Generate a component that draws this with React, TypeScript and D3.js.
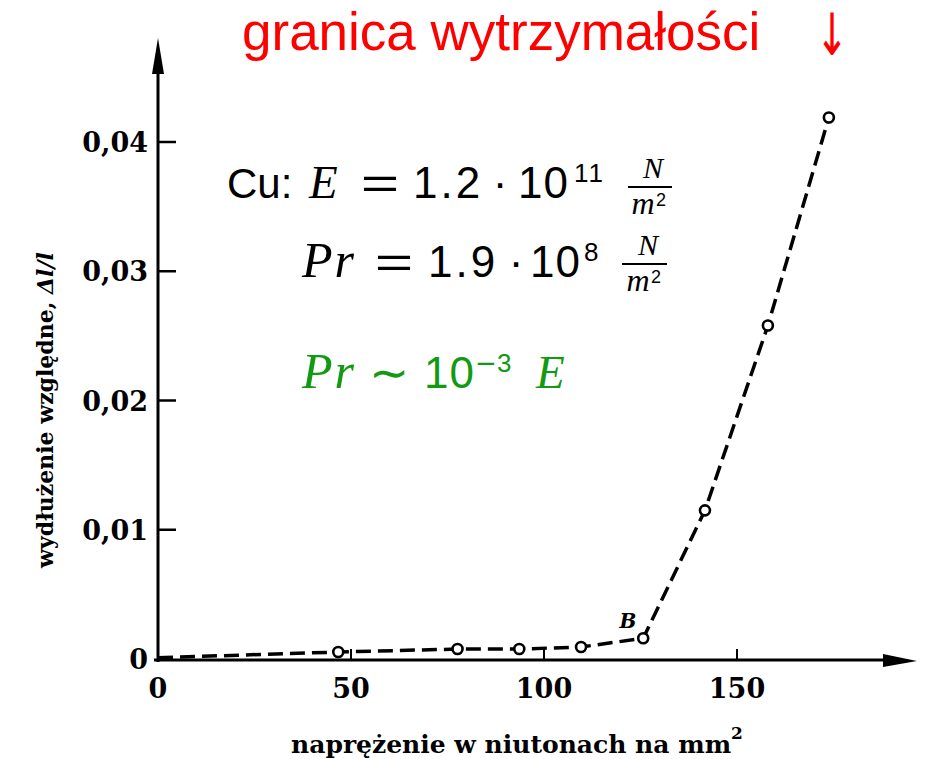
import React from "react";
import * as d3 from "d3";

const stressValues = [0, 46.7, 77.6, 93.6, 109.6, 125.7, 141.7, 158.0, 173.8];
const strainValues = [0.0001, 0.00054, 0.00077, 0.00077, 0.00093, 0.0016, 0.0115, 0.0258, 0.0419];
const markerFlags = [false, true, true, true, true, true, true, true, true];
const xTicks = [0, 50, 100, 150];
const yTicks = [0, 0.01, 0.02, 0.03, 0.04];
const yTickLabels = ["0", "0,01", "0,02", "0,03", "0,04"];
const titleText = "granica wytrzymałości";
const xLabel = "naprężenie w niutonach na mm";
const yLabel = "wydłużenie względne, ";

const W = 926;
const H = 759;

const serifBold = "'DejaVu Serif', serif";
const sans = "'Liberation Sans', Arial, sans-serif";
const mathIt = "'Liberation Serif', 'Times New Roman', serif";
const relFont = "'DejaVu Sans', sans-serif";

function Frac({ cx, bar, x1, x2, color }: { cx: number; bar: number; x1: number; x2: number; color: string }) {
  return (
    <g fill={color}>
      <text x={cx + 3} y={bar - 9} fontSize={30} fontFamily={mathIt} fontStyle="italic" textAnchor="middle">
        N
      </text>
      <line x1={x1} y1={bar} x2={x2} y2={bar} stroke={color} strokeWidth={2.2} />
      <text x={cx - 7} y={bar + 27} fontSize={32} fontFamily={mathIt} fontStyle="italic" textAnchor="middle">
        m
      </text>
      <text x={cx + 6} y={bar + 19} fontSize={18} fontFamily={sans}>
        2
      </text>
    </g>
  );
}

function Eq({ cx, base }: { cx: number; base: number }) {
  return (
    <text
      x={cx}
      y={base}
      fontSize={44}
      fontFamily={sans}
      textAnchor="middle"
      transform={`translate(${cx},0) scale(1.5,1) translate(${-cx},0)`}
    >
      =
    </text>
  );
}

export default function App() {
  const x = d3.scaleLinear().domain([0, 150]).range([158, 737]);
  const y = d3.scaleLinear().domain([0, 0.04]).range([659, 142]);
  const pts = stressValues.map((v, i) => ({ x: v, y: strainValues[i], m: markerFlags[i] }));
  const line = d3
    .line<{ x: number; y: number }>()
    .x((d) => x(d.x))
    .y((d) => y(d.y));

  const x0 = x(0);
  const y0 = y(0);
  const green = "#129a12";

  return (
    <svg
      width={W}
      height={H}
      viewBox={`0 0 ${W} ${H}`}
      style={{ position: "absolute", left: 0, top: 0, background: "#fff" }}
    >
      <rect x={0} y={0} width={W} height={H} fill="#fff" />
      {/* title */}
      <text x={242} y={50} fill="#ff0000" fontFamily={sans} fontSize={53}>
        {titleText}
      </text>
      <text
        x={832}
        y={55}
        fill="#ff0000"
        fontFamily={relFont}
        fontSize={58}
        textAnchor="middle"
        transform="translate(832,0) scale(0.68,1) translate(-832,0)"
      >
        ↓
      </text>

      {/* axes */}
      <line x1={x0} y1={y0 + 3} x2={x0} y2={60} stroke="#000" strokeWidth={3} />
      <path d={`M${x0},38 L${x0 - 6},74 L${x0 + 6},74 Z`} fill="#000" />
      <line x1={x0 - 4} y1={y0 + 1} x2={890} y2={y0 + 1} stroke="#000" strokeWidth={3} />
      <path d={`M917,${y0 + 2} L883,${y0 - 5} L883,${y0 + 8} Z`} fill="#000" />

      {yTicks.map((t, i) => (
        <g key={"yt" + i}>
          {t > 0 && (
            <line x1={x0} y1={y(t)} x2={x0 + 18} y2={y(t)} stroke="#000" strokeWidth={2.5} />
          )}
          <text
            x={148}
            y={y(t) + 10}
            textAnchor="end"
            fontFamily={serifBold}
            fontWeight="bold"
            fontSize={27}
          >
            {yTickLabels[i]}
          </text>
        </g>
      ))}
      {xTicks.map((t, i) => (
        <g key={"xt" + i}>
          {t > 0 && (
            <line x1={x(t)} y1={y0} x2={x(t)} y2={y0 - 10} stroke="#000" strokeWidth={2} />
          )}
          <text
            x={x(t)}
            y={698}
            textAnchor="middle"
            fontFamily={serifBold}
            fontWeight="bold"
            fontSize={27}
          >
            {String(t)}
          </text>
        </g>
      ))}

      {/* axis labels */}
      <text
        x={517}
        y={753}
        textAnchor="middle"
        fontFamily={serifBold}
        fontWeight="bold"
        fontSize={25}
      >
        {xLabel}
        <tspan dy={-14} fontSize={17}>2</tspan>
      </text>
      <text
        transform="translate(53,410) rotate(-90)"
        textAnchor="middle"
        fontFamily={serifBold}
        fontWeight="bold"
        fontSize={22}
      >
        {yLabel}
        <tspan fontStyle="italic">Δl/l</tspan>
      </text>

      {/* data */}
      <path
        d={line(pts) || ""}
        fill="none"
        stroke="#000"
        strokeWidth={3.5}
        strokeDasharray="15,7"
      />
      {pts
        .filter((p) => p.m)
        .map((p, i) => (
          <circle
            key={"c" + i}
            cx={x(p.x)}
            cy={y(p.y)}
            r={5}
            fill="#fff"
            stroke="#000"
            strokeWidth={2.6}
          />
        ))}
      <text
        x={628}
        y={628}
        fontFamily={serifBold}
        fontWeight="bold"
        fontStyle="italic"
        fontSize={20}
        textAnchor="middle"
      >
        B
      </text>

      {/* formula line 1 */}
      <g fill="#000">
        <text x={227} y={198} fontSize={42} fontFamily={sans}>Cu:</text>
        <text x={309} y={198} fontSize={47} fontFamily={mathIt} fontStyle="italic">E</text>
        <Eq cx={380} base={199} />
        <text x={413} y={198} fontSize={44} fontFamily={sans} letterSpacing={3}>1.2</text>
        <text x={500} y={198} fontSize={44} fontFamily={sans} textAnchor="middle">·</text>
        <text x={518} y={198} fontSize={44} fontFamily={sans} letterSpacing={1}>10</text>
        <text x={574} y={182} fontSize={26} fontFamily={sans} letterSpacing={2}>11</text>
      </g>
      <Frac cx={650} bar={187} x1={628} x2={672} color="#000" />

      {/* formula line 2 */}
      <g fill="#000">
        <text x={302} y={277} fontSize={50} fontFamily={mathIt} fontStyle="italic" letterSpacing={2}>Pr</text>
        <Eq cx={394} base={278} />
        <text x={428} y={277} fontSize={44} fontFamily={sans} letterSpacing={3}>1.9</text>
        <text x={516} y={277} fontSize={44} fontFamily={sans} textAnchor="middle">·</text>
        <text x={530} y={277} fontSize={44} fontFamily={sans} letterSpacing={1}>10</text>
        <text x={584} y={261} fontSize={26} fontFamily={sans}>8</text>
      </g>
      <Frac cx={645} bar={264} x1={622} x2={667} color="#000" />

      {/* formula line 3 */}
      <g fill={green}>
        <text x={302} y={388} fontSize={50} fontFamily={mathIt} fontStyle="italic" letterSpacing={2}>Pr</text>
        <text x={389} y={389} fontSize={48} fontFamily={relFont} textAnchor="middle">∼</text>
        <text x={424} y={388} fontSize={44} fontFamily={sans} letterSpacing={1}>10</text>
        <text x={475} y={372} fontSize={26} fontFamily={relFont}>−</text>
        <text x={497} y={372} fontSize={26} fontFamily={sans}>3</text>
        <text x={536} y={388} fontSize={47} fontFamily={mathIt} fontStyle="italic">E</text>
      </g>
    </svg>
  );
}
